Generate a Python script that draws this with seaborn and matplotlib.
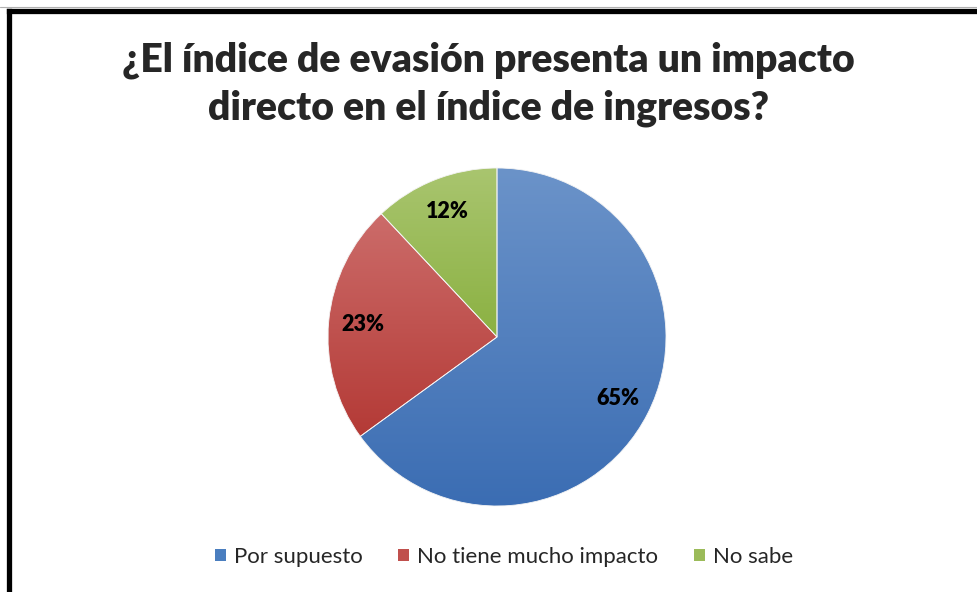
import numpy as np
import seaborn as sns
import matplotlib.pyplot as plt
from matplotlib.colors import to_rgb
from matplotlib.lines import Line2D
from matplotlib.patches import Patch

# datos de la encuesta
categorias = ['Por supuesto', 'No tiene mucho impacto', 'No sabe']
porcentajes = [65, 23, 12]
titulo = '¿El índice de evasión presenta un impacto\ndirecto en el índice de ingresos?'

# degradado estilo Excel: (arriba, abajo)
colores_top = ['#6b93c9', '#cc6c6a', '#a9c56f']
colores_bottom = ['#3b6db3', '#b43a36', '#8bb142']
colores_leyenda = sns.color_palette(['#4a7ebf', '#c0504d', '#9bbb59'])


def gradiente(ax, wedge, top, bottom):
    ext = wedge.get_path().get_extents()
    t = np.linspace(0, 1, 256)[:, None]
    c0, c1 = np.array(to_rgb(top)), np.array(to_rgb(bottom))
    img = (c0 * (1 - t) + c1 * t)[:, None, :]
    im = ax.imshow(img, extent=(ext.x0, ext.x1, ext.y0, ext.y1), origin='upper',
                   aspect='auto', interpolation='bilinear', zorder=1)
    im.set_clip_path(wedge)


def main():
    sns.set_theme(style='white')
    plt.rcParams['font.family'] = ['Lato', 'DejaVu Sans']

    W, H = 977, 592
    fig = plt.figure(figsize=(W / 100, H / 100), dpi=100)
    fig.patch.set_facecolor('white')

    cx, cy, r = 497, 337, 169
    ax = fig.add_axes([(cx - r) / W, (H - cy - r) / H, 2 * r / W, 2 * r / H])
    wedges, textos, autotextos = ax.pie(
        porcentajes, startangle=90, counterclock=False,
        autopct='%1.0f%%', pctdistance=0.8,
        wedgeprops=dict(facecolor='none', edgecolor='#f4f4f4', linewidth=0.6, zorder=2),
        textprops=dict(fontsize=15.5, fontweight='heavy', fontstyle='normal', color='black'))
    for w, top, bot in zip(wedges, colores_top, colores_bottom):
        gradiente(ax, w, top, bot)
    for t in autotextos:
        t.set_zorder(3)
    ax.set_xlim(-1, 1)
    ax.set_ylim(-1, 1)
    ax.set_aspect('equal')
    ax.axis('off')

    fig.text(0.5, 1 - 84 / H, titulo, ha='center', va='center', fontsize=28.2,
             fontweight='heavy', fontstyle='normal', linespacing=1.35)

    handles = [Patch(facecolor=c, edgecolor='none') for c in colores_leyenda]
    fig.legend(handles, categorias, loc='center', bbox_to_anchor=(504 / W, 1 - 557 / H),
               ncol=3, frameon=False, fontsize=16, handlelength=0.5, handleheight=0.5,
               handletextpad=0.35, columnspacing=1.6)

    # marco del gráfico (solo arriba e izquierda visibles)
    fig.add_artist(Line2D([0, 1], [1 - 7 / H] * 2, color='#b0b0b0', lw=0.8,
                          transform=fig.transFigure))
    fig.add_artist(Line2D([8.5 / W, 1], [1 - 10.5 / H] * 2, color='black', lw=3.8,
                          transform=fig.transFigure, solid_capstyle='projecting'))
    fig.add_artist(Line2D([8.5 / W] * 2, [0, 1 - 10.5 / H], color='black', lw=3.8,
                          transform=fig.transFigure, solid_capstyle='projecting'))

    fig.savefig('out.png', dpi=100)


if __name__ == '__main__':
    main()
